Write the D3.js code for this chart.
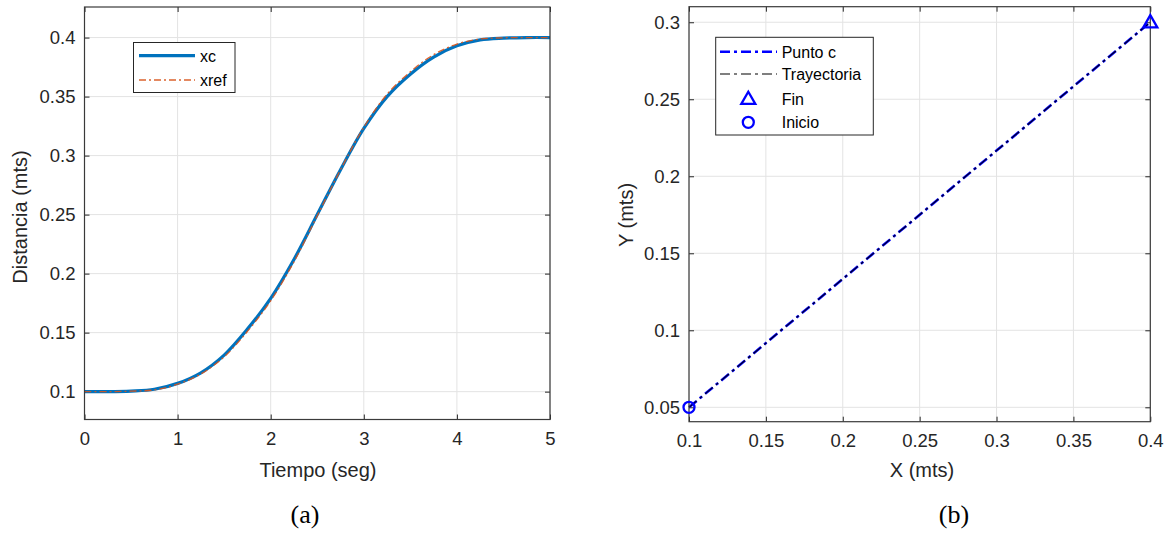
<!DOCTYPE html>
<html><head><meta charset="utf-8">
<script src="https://cdn.jsdelivr.net/npm/d3@7"></script>
<style>
html,body{margin:0;padding:0;background:#fff;}
svg{display:block;font-family:"Liberation Sans",Arial,Helvetica,sans-serif;}
</style></head>
<body>
<svg id="c" width="1167" height="533"></svg>
<script>
// ---------- data ----------
const tiempo = [0,0.25,0.5,0.75,1,1.25,1.5,1.75,2,2.25,2.5,2.75,3,3.25,3.5,3.75,4,4.25,4.5,4.75,5];
const xc   = [0.100,0.100,0.1005,0.102,0.107,0.116,0.131,0.153,0.179,0.212,0.250,0.288,0.323,0.350,0.369,0.3835,0.393,0.398,0.3995,0.400,0.400];
const xref = [0.100,0.100,0.1004,0.1015,0.1063,0.115,0.1295,0.151,0.177,0.210,0.249,0.288,0.324,0.352,0.371,0.3855,0.3945,0.3988,0.3998,0.400,0.400];
const leftXTicks = [0,1,2,3,4,5];
const leftYTicks = [0.1,0.15,0.2,0.25,0.3,0.35,0.4];

const puntoX = [0.1,0.4];
const puntoY = [0.05,0.3];
const trayX  = [0.1,0.4];
const trayY  = [0.05,0.3];
const finPt = [0.4,0.3];
const inicioPt = [0.1,0.05];
const rightXTicks = [0.1,0.15,0.2,0.25,0.3,0.35,0.4];
const rightYTicks = [0.05,0.1,0.15,0.2,0.25,0.3];

const svg = d3.select("#c");
const AX = "#262626", GRID = "#e3e3e3";

function panel(cfg){
  const g = svg.append("g");
  const x = d3.scaleLinear().domain(cfg.xd).range([cfg.x0,cfg.x1]);
  const y = d3.scaleLinear().domain(cfg.yd).range([cfg.y1,cfg.y0]);
  g.append("g").selectAll("line").data(cfg.xt).join("line")
    .attr("x1",d=>x(d)).attr("x2",d=>x(d)).attr("y1",cfg.y0).attr("y2",cfg.y1)
    .attr("stroke",GRID).attr("stroke-width",1);
  g.append("g").selectAll("line").data(cfg.yt).join("line")
    .attr("y1",d=>y(d)).attr("y2",d=>y(d)).attr("x1",cfg.x0).attr("x2",cfg.x1)
    .attr("stroke",GRID).attr("stroke-width",1);
  const fmt = d3.format("~g");
  const ax = g.append("g").attr("transform",`translate(0,${cfg.y1})`)
    .call(d3.axisBottom(x).tickValues(cfg.xt).tickSize(-5).tickPadding(12).tickFormat(fmt));
  const ay = g.append("g").attr("transform",`translate(${cfg.x0},0)`)
    .call(d3.axisLeft(y).tickValues(cfg.yt).tickSize(-5).tickPadding(9).tickFormat(fmt));
  const at = g.append("g").attr("transform",`translate(0,${cfg.y0})`)
    .call(d3.axisTop(x).tickValues(cfg.xt).tickSize(-5).tickFormat(""));
  const ar = g.append("g").attr("transform",`translate(${cfg.x1},0)`)
    .call(d3.axisRight(y).tickValues(cfg.yt).tickSize(-5).tickFormat(""));
  [ax,ay,at,ar].forEach(a=>{
    a.select(".domain").remove();
    a.selectAll(".tick line").attr("stroke",AX).attr("stroke-width",1);
    a.selectAll(".tick text").attr("fill",AX).style("font-size","18.5px").style("font-family","'Liberation Sans',Arial,sans-serif");
  });
  ax.selectAll(".tick text").attr("dy","0.71em");
  return {g,x,y};
}

function frame(g,cfg){
  g.append("rect").attr("x",cfg.x0).attr("y",cfg.y0)
    .attr("width",cfg.x1-cfg.x0).attr("height",cfg.y1-cfg.y0)
    .attr("fill","none").attr("stroke","#3a3a3a").attr("stroke-width",1.2);
}

// ---------- left panel ----------
const L = {x0:84.5,x1:550,y0:7,y1:419.5,xd:[0,5],yd:[0.0764,0.4259],xt:leftXTicks,yt:leftYTicks};
const pl = panel(L);
const lineL = d3.line().x((d,i)=>pl.x(tiempo[i])).y(d=>pl.y(d)).curve(d3.curveCatmullRom.alpha(0.5));
pl.g.append("path").datum(xc).attr("d",lineL).attr("fill","none")
  .attr("stroke","#0072BD").attr("stroke-width",3.2);
pl.g.append("path").datum(xref).attr("d",lineL).attr("fill","none")
  .attr("stroke","#D95319").attr("stroke-width",1.3).attr("stroke-dasharray","7,3,2,3").attr("opacity",0.9);
frame(pl.g,L);
svg.append("text").attr("x",318).attr("y",477).attr("text-anchor","middle")
  .attr("fill",AX).style("font-size","20px").text("Tiempo (seg)");
svg.append("text").attr("transform","translate(27,217) rotate(-90)").attr("text-anchor","middle")
  .attr("fill",AX).style("font-size","20px").text("Distancia (mts)");
// legend left
const lgL = svg.append("g");
lgL.append("rect").attr("x",133.5).attr("y",42.5).attr("width",101.5).attr("height",50)
  .attr("fill","#fff").attr("stroke","#262626").attr("stroke-width",1);
lgL.append("line").attr("x1",139).attr("x2",195).attr("y1",55.7).attr("y2",55.7)
  .attr("stroke","#0072BD").attr("stroke-width",3.2);
lgL.append("line").attr("x1",139).attr("x2",195).attr("y1",80).attr("y2",80)
  .attr("stroke","#D95319").attr("stroke-width",1.3).attr("stroke-dasharray","7,3,2,3").attr("opacity",0.9);
lgL.append("text").attr("x",200).attr("y",61.5).attr("fill","#000").style("font-size","16px").text("xc");
lgL.append("text").attr("x",200).attr("y",85.5).attr("fill","#000").style("font-size","16px").text("xref");

// ---------- right panel ----------
const R = {x0:689,x1:1150.3,y0:6.7,y1:421.7,xd:[0.1,0.4],yd:[0.04065,0.3101],xt:rightXTicks,yt:rightYTicks};
const pr = panel(R);
const lineR = (xs)=>d3.line().x((d,i)=>pr.x(xs[i])).y(d=>pr.y(d));
pr.g.append("path").datum(puntoY).attr("d",lineR(puntoX)).attr("fill","none")
  .attr("stroke","#0000FF").attr("stroke-width",2.6).attr("stroke-dasharray","10,4,3,4");
pr.g.append("path").datum(trayY).attr("d",lineR(trayX)).attr("fill","none")
  .attr("stroke","#000").attr("stroke-width",1.1).attr("stroke-dasharray","10,4,3,4").attr("opacity",0.9);
frame(pr.g,R);
const tri = d3.symbol().type(d3.symbolTriangle).size(85);
pr.g.append("path").attr("d",tri()).attr("transform",`translate(${pr.x(finPt[0])},${pr.y(finPt[1])+1})`)
  .attr("fill","none").attr("stroke","#0000FF").attr("stroke-width",2.3);
pr.g.append("circle").attr("cx",pr.x(inicioPt[0])).attr("cy",pr.y(inicioPt[1])).attr("r",5.5)
  .attr("fill","none").attr("stroke","#0000FF").attr("stroke-width",2.3);
svg.append("text").attr("x",922).attr("y",477).attr("text-anchor","middle")
  .attr("fill",AX).style("font-size","20px").text("X (mts)");
svg.append("text").attr("transform","translate(633,215) rotate(-90)").attr("text-anchor","middle")
  .attr("fill",AX).style("font-size","20px").text("Y (mts)");
// legend right
const lgR = svg.append("g");
lgR.append("rect").attr("x",715.7).attr("y",37.3).attr("width",157.6).attr("height",97.7)
  .attr("fill","#fff").attr("stroke","#262626").attr("stroke-width",1);
lgR.append("line").attr("x1",720).attr("x2",777).attr("y1",51.7).attr("y2",51.7)
  .attr("stroke","#0000FF").attr("stroke-width",2.6).attr("stroke-dasharray","10,4,3,4");
lgR.append("line").attr("x1",720).attr("x2",777).attr("y1",74).attr("y2",74)
  .attr("stroke","#000").attr("stroke-width",1.1).attr("stroke-dasharray","10,4,3,4");
lgR.append("path").attr("d",tri()).attr("transform","translate(748.3,99.8)")
  .attr("fill","none").attr("stroke","#0000FF").attr("stroke-width",2.3);
lgR.append("circle").attr("cx",748.3).attr("cy",122.3).attr("r",5.5)
  .attr("fill","none").attr("stroke","#0000FF").attr("stroke-width",2.3);
const lgTexts = ["Punto c","Trayectoria","Fin","Inicio"];
const lgY = [51.7,74,99.3,122.3];
lgR.selectAll("text.l").data(lgTexts).join("text").attr("class","l")
  .attr("x",781.7).attr("y",(d,i)=>lgY[i]+5.8).attr("fill","#000").style("font-size","16px").text(d=>d);

// captions
svg.append("text").attr("x",305).attr("y",523).attr("text-anchor","middle")
  .style("font-family","'Liberation Serif','DejaVu Serif',serif").style("font-size","26px").attr("fill","#000").text("(a)");
svg.append("text").attr("x",954).attr("y",523).attr("text-anchor","middle")
  .style("font-family","'Liberation Serif','DejaVu Serif',serif").style("font-size","26px").attr("fill","#000").text("(b)");
</script>
</body></html>
